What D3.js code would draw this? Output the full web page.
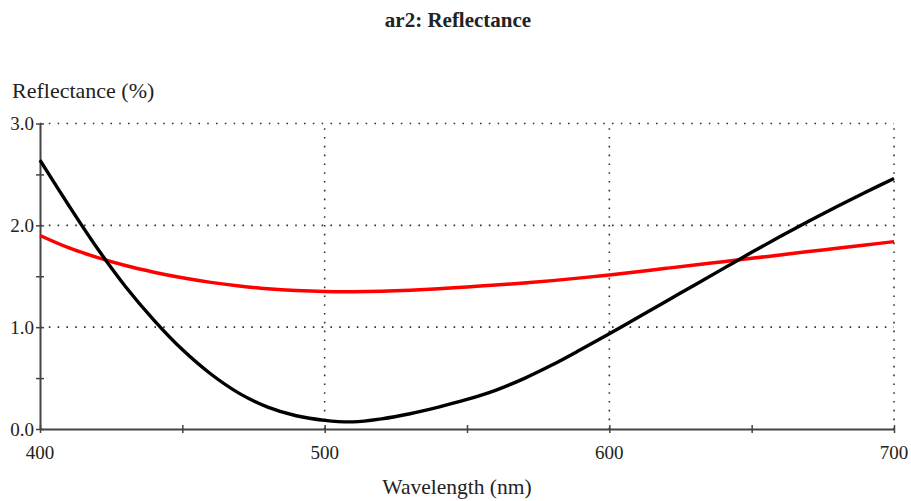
<!DOCTYPE html>
<html>
<head>
<meta charset="utf-8">
<script src="https://cdn.jsdelivr.net/npm/d3@7"></script>
<style>
  body { margin: 0; background: #fff; }
  text { font-family: 'Liberation Serif', 'DejaVu Serif', serif; fill: #222; }
</style>
</head>
<body>
<script>
// wavelength (nm) and reflectance (%)
const wavelengths = [400, 410, 420, 430, 440, 450, 460, 470, 480, 490, 500, 510, 520, 530, 540, 550,
  560, 570, 580, 590, 600, 610, 620, 630, 640, 650, 660, 670, 680, 690, 700];
const blackSeries = [2.64, 2.20, 1.78, 1.40, 1.07, 0.78, 0.54, 0.35, 0.215, 0.13, 0.085, 0.07, 0.10, 0.15, 0.215, 0.29,
  0.38, 0.495, 0.63, 0.78, 0.935, 1.095, 1.255, 1.415, 1.575, 1.735, 1.89, 2.04, 2.185, 2.325, 2.46];
const redSeries = [1.90, 1.78, 1.685, 1.605, 1.54, 1.485, 1.44, 1.405, 1.378, 1.36, 1.35, 1.348, 1.352, 1.362, 1.377, 1.395,
  1.413, 1.434, 1.457, 1.484, 1.513, 1.545, 1.578, 1.611, 1.643, 1.676, 1.709, 1.742, 1.774, 1.807, 1.84];
const xTicks = [400, 500, 600, 700];
const yTicks = [0, 1, 2, 3];

const W = 911, H = 501;
const margin = { top: 123.5, right: 17, bottom: 72, left: 40 };

const svg = d3.select('body').append('svg').attr('width', W).attr('height', H);

const x = d3.scaleLinear().domain([400, 700]).range([margin.left, W - margin.right]);
const y = d3.scaleLinear().domain([0, 3]).range([H - margin.bottom, margin.top]);

// dotted grid
const grid = svg.append('g').attr('stroke', '#333').attr('stroke-width', 1.6).attr('stroke-dasharray', '1.6,7.2');
grid.selectAll('.gx').data(xTicks.slice(1)).join('line')
  .attr('x1', d => x(d)).attr('x2', d => x(d))
  .attr('y1', y(0)).attr('y2', y(3));
grid.selectAll('.gy').data(yTicks.slice(1)).join('line')
  .attr('x1', x(400)).attr('x2', x(700))
  .attr('y1', d => y(d)).attr('y2', d => y(d));

// axes, ticks crossing the axis line
const axisColor = '#444';
const xAxis = svg.append('g')
  .attr('transform', `translate(0,${y(0)})`)
  .call(d3.axisBottom(x).tickValues(d3.range(400, 701, 50)).tickSize(0).tickFormat(''));
xAxis.select('.domain').attr('stroke', axisColor).attr('stroke-width', 2);
xAxis.selectAll('.tick').append('line').attr('y1', -4).attr('y2', 4).attr('stroke', axisColor).attr('stroke-width', 1.5);

const yAxis = svg.append('g')
  .attr('transform', `translate(${x(400)},0)`)
  .call(d3.axisLeft(y).tickValues(d3.range(0, 3.01, 0.5)).tickSize(0).tickFormat(''));
yAxis.select('.domain').attr('stroke', axisColor).attr('stroke-width', 2);
yAxis.selectAll('.tick').append('line').attr('x1', -4).attr('x2', 4).attr('stroke', axisColor).attr('stroke-width', 1.5);

// tick labels
svg.selectAll('.xl').data(xTicks).join('text')
  .attr('x', d => x(d)).attr('y', y(0) + 30)
  .attr('text-anchor', 'middle').attr('font-size', 19)
  .text(d => d);
svg.selectAll('.yl').data(yTicks).join('text')
  .attr('x', x(400) - 6).attr('y', d => y(d) + 6.5)
  .attr('text-anchor', 'end').attr('font-size', 19)
  .text(d => d.toFixed(1));

// curves
const line = d3.line().x((d, i) => x(wavelengths[i])).y(d => y(d)).curve(d3.curveCatmullRom);
svg.append('path').datum(redSeries).attr('d', line)
  .attr('fill', 'none').attr('stroke', '#ff0000').attr('stroke-width', 3.5);
svg.append('path').datum(blackSeries).attr('d', line)
  .attr('fill', 'none').attr('stroke', '#000').attr('stroke-width', 3.4);

// titles
svg.append('text').attr('x', 458).attr('y', 27).attr('text-anchor', 'middle')
  .attr('font-size', 21).attr('font-weight', 'bold').text('ar2: Reflectance');
svg.append('text').attr('x', 12).attr('y', 98).attr('font-size', 22).text('Reflectance (%)');
svg.append('text').attr('x', 457).attr('y', 494).attr('text-anchor', 'middle')
  .attr('font-size', 21.5).text('Wavelength (nm)');
</script>
</body>
</html>
